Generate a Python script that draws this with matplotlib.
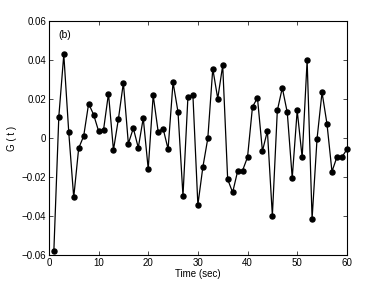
import matplotlib
matplotlib.use("Agg")
import matplotlib.pyplot as plt

plt.rcParams['font.family'] = ['Liberation Sans', 'DejaVu Sans']

time = list(range(1, 61))
g = [-0.0578, 0.0110, 0.0428, 0.0029, -0.0305, -0.0052, 0.0009, 0.0176, 0.0120, 0.0036,
     0.0041, 0.0228, -0.0062, 0.0098, 0.0283, -0.0029, 0.0050, -0.0050, 0.0102, -0.0159,
     0.0219, 0.0033, 0.0048, -0.0057, 0.0286, 0.0133, -0.0297, 0.0212, 0.0219, -0.0343,
     -0.0150, -0.0002, 0.0355, 0.0202, 0.0372, -0.0212, -0.0279, -0.0171, -0.0167, -0.0098,
     0.0160, 0.0205, -0.0067, 0.0036, -0.0398, 0.0141, 0.0257, 0.0131, -0.0205, 0.0141,
     -0.0100, 0.0398, -0.0414, -0.0003, 0.0234, 0.0072, -0.0172, -0.0098, -0.0098, -0.0059]

xticks = [0, 10, 20, 30, 40, 50, 60]
yticks = [-0.06, -0.04, -0.02, 0, 0.02, 0.04, 0.06]
ylabels = ['\u22120.06', '\u22120.04', '\u22120.02', '0', '0.02', '0.04', '0.06']

fig = plt.figure(figsize=(3.82, 2.87), dpi=100)
ax = fig.add_axes([0.128, 0.1115, 0.78, 0.8155])
ax.plot(time, g, color='black', linewidth=0.9, marker='o', markersize=3.6,
        markerfacecolor='black', markeredgecolor='black', clip_on=False)

ax.set_xlim(0, 60)
ax.set_ylim(-0.06, 0.06)
ax.set_xticks(xticks)
ax.set_yticks(yticks)
ax.set_yticklabels(ylabels)
ax.tick_params(direction='in', top=True, right=True, labelsize=7, length=3,
               width=0.5, pad=2)
for s in ax.spines.values():
    s.set_linewidth(0.8)

ax.set_xlabel('Time (sec)', fontsize=7, labelpad=1)
ax.set_ylabel('G ( t )', fontsize=7, labelpad=3)
ax.text(2, 0.053, '(b)', fontsize=7.5, va='center', ha='left')

fig.savefig('out.png', dpi=100)
